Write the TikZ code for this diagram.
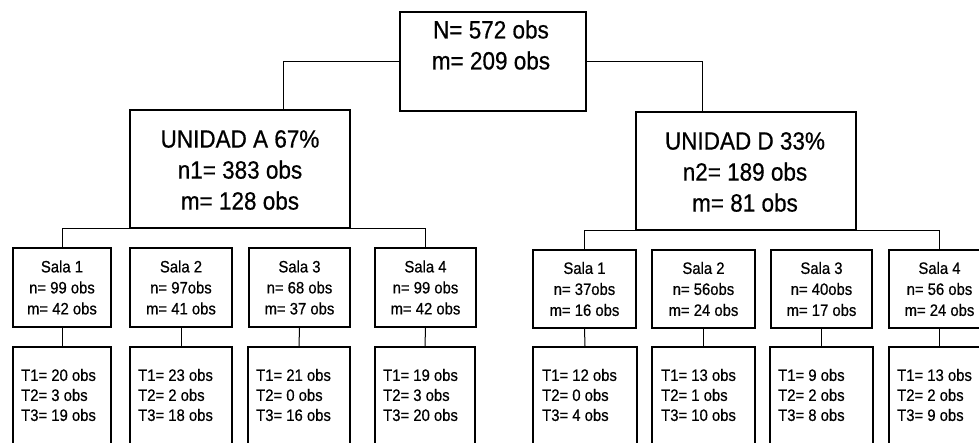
\documentclass[tikz,border=0pt]{standalone}
\usepackage{fontspec}
\setmainfont{Liberation Sans}[FakeStretch=0.9,FakeBold=0.6]
\begin{document}
\begin{tikzpicture}[x=1pt,y=-1pt,
  box/.style={draw, line width=1.8pt, inner sep=0pt, anchor=center},
  conn/.style={line width=1pt},
  big/.style={font=\fontsize{25}{31}\selectfont, align=center, inner sep=0pt},
  salatxt/.style={font=\fontsize{16.5}{21}\selectfont, align=center},
  ttxt/.style={font=\fontsize{16.5}{20}\selectfont, align=left, anchor=west, inner sep=0pt}]
\useasboundingbox (0,0) rectangle (979,443);
% root
\node[box, minimum width=186pt, minimum height=99pt] (root) at (493,61.5) {};
\node[big] (roottxt) at (491,45) {N= 572 obs\\m= 209 obs};
% units
\node[box, minimum width=220pt, minimum height=118pt] (ua) at (240,169) {};
\node[big] (uatxt) at (240,170) {UNIDAD A 67\%\\n1= 383 obs\\m= 128 obs};
\node[box, minimum width=220pt, minimum height=118pt] (ud) at (746,171) {};
\node[big] (udtxt) at (745,172) {UNIDAD D 33\%\\n2= 189 obs\\m= 81 obs};
% salas left
\node[box, salatxt, minimum width=98pt, minimum height=79pt] (a1) at (62,287.5) {Sala 1\\n= 99 obs\\m= 42 obs};
\node[box, salatxt, minimum width=102pt, minimum height=79pt] (a2) at (181,287.5) {Sala 2\\n= 97obs\\m= 41 obs};
\node[box, salatxt, minimum width=101pt, minimum height=79pt] (a3) at (299.5,287.5) {Sala 3\\n= 68 obs\\m= 37 obs};
\node[box, salatxt, minimum width=101pt, minimum height=79pt] (a4) at (425.5,287.5) {Sala 4\\n= 99 obs\\m= 42 obs};
% salas right
\node[box, salatxt, minimum width=103pt, minimum height=78pt] (d1) at (584.5,289) {Sala 1\\n= 37obs\\m= 16 obs};
\node[box, salatxt, minimum width=103pt, minimum height=78pt] (d2) at (703.5,289) {Sala 2\\n= 56obs\\m= 24 obs};
\node[box, salatxt, minimum width=101pt, minimum height=78pt] (d3) at (821.5,289) {Sala 3\\n= 40obs\\m= 17 obs};
\node[box, salatxt, minimum width=101pt, minimum height=78pt] (d4) at (939.5,289) {Sala 4\\n= 56 obs\\m= 24 obs};
% T boxes left
\node[box, minimum width=98pt, minimum height=113pt] (ta1) at (62,403.5) {};
\node[box, minimum width=102pt, minimum height=113pt] (ta2) at (181,403.5) {};
\node[box, minimum width=102pt, minimum height=113pt] (ta3) at (299,403.5) {};
\node[box, minimum width=100pt, minimum height=113pt] (ta4) at (425,403.5) {};
\node[ttxt] (tta1) at (21,395) {T1= 20 obs\\T2= 3 obs\\T3= 19 obs};
\node[ttxt] (tta2) at (138,395) {T1= 23 obs\\T2= 2 obs\\T3= 18 obs};
\node[ttxt] (tta3) at (256,395) {T1= 21 obs\\T2= 0 obs\\T3= 16 obs};
\node[ttxt] (tta4) at (383,395) {T1= 19 obs\\T2= 3 obs\\T3= 20 obs};
% T boxes right
\node[box, minimum width=104pt, minimum height=113pt] (td1) at (585,403.5) {};
\node[box, minimum width=103pt, minimum height=113pt] (td2) at (703.5,403.5) {};
\node[box, minimum width=103pt, minimum height=113pt] (td3) at (821.5,403.5) {};
\node[box, minimum width=101pt, minimum height=113pt] (td4) at (939.5,403.5) {};
\node[ttxt] (ttd1) at (542,395) {T1= 12 obs\\T2= 0 obs\\T3= 4 obs};
\node[ttxt] (ttd2) at (661,395) {T1= 13 obs\\T2= 1 obs\\T3= 10 obs};
\node[ttxt] (ttd3) at (778,395) {T1= 9 obs\\T2= 2 obs\\T3= 8 obs};
\node[ttxt] (ttd4) at (897,395) {T1= 13 obs\\T2= 2 obs\\T3= 9 obs};
% connectors
\coordinate (ja) at (283,0);
\coordinate (jd) at (702,0);
\draw[conn] (root.west) -| (ja |- ua.north);
\draw[conn] (root.east) -| (jd |- ud.north);
\draw[conn] (a1.north) -- (a1.north |- ua.south) -- (a4.north |- ua.south) -- (a4.north);
\draw[conn] (d1.north) -- (d1.north |- ud.south) -- (d4.north |- ud.south) -- (d4.north);
\draw[conn] (a1.south) -- (ta1.north);
\draw[conn] (a2.south) -- (ta2.north);
\draw[conn] (a3.south) -- (ta3.north);
\draw[conn] (a4.south) -- (ta4.north);
\draw[conn] (d1.south) -- (td1.north);
\draw[conn] (d2.south) -- (td2.north);
\draw[conn] (d3.south) -- (td3.north);
\draw[conn] (d4.south) -- (td4.north);
\end{tikzpicture}
\end{document}
